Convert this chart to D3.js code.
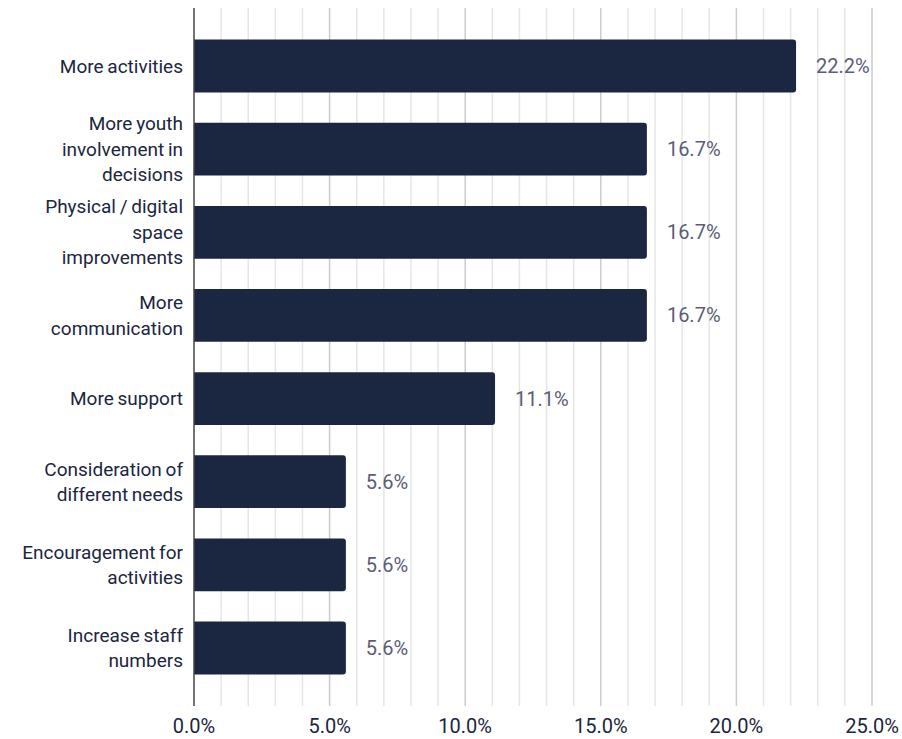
<!DOCTYPE html>
<html>
<head>
<meta charset="utf-8">
<script src="https://cdn.jsdelivr.net/npm/d3@7"></script>
<style>
  body { margin: 0; background: #fff; }
  text { font-family: Roboto, "Noto Sans", sans-serif; }
</style>
</head>
<body>
<div id="chart-area"></div>
<script>
// data
let categories = [
  "More activities",
  "More youth\ninvolvement in\ndecisions",
  "Physical / digital\nspace\nimprovements",
  "More\ncommunication",
  "More support",
  "Consideration of\ndifferent needs",
  "Encouragement for\nactivities",
  "Increase staff\nnumbers"
];
let shares = [22.2, 16.7, 16.7, 16.7, 11.1, 5.6, 5.6, 5.6];
let tick_values = [0, 5, 10, 15, 20, 25];

let width = 902, height = 739;
let margin = { left: 194, right: 30, top: 8, bottom: 33 };

let svg = d3.select("#chart-area")
  .append("svg")
    .attr("width", width)
    .attr("height", height)

let x = d3.scaleLinear()
  .domain([0, 25])
  .range([margin.left, width - margin.right])

let y = d3.scaleBand()
  .domain(categories)
  .range([margin.top, height - margin.bottom])
  .paddingInner(0.365)
  .paddingOuter(0.38)

// ----------------- grid -----------------
svg.append("g")
  .selectAll("line")
  .data(d3.range(1, 26))
  .enter()
  .append("line")
    .attr("x1", d => x(d))
    .attr("x2", d => x(d))
    .attr("y1", margin.top)
    .attr("y2", height - margin.bottom)
    .attr("stroke", d => d % 5 === 0 ? "#cccccc" : "#e6e6e6")
    .attr("stroke-width", 1.5)

// ----------------- bars -----------------
let r = 3;
svg.append("g")
  .selectAll("path")
  .data(shares)
  .enter()
  .append("path")
    .attr("fill", "#1b2640")
    .attr("d", (d, i) => {
      let x0 = x(0), x1 = x(d);
      let y0 = y(categories[i]), y1 = y0 + y.bandwidth();
      return `M${x0},${y0}H${x1 - r}Q${x1},${y0} ${x1},${y0 + r}V${y1 - r}Q${x1},${y1} ${x1 - r},${y1}H${x0}Z`;
    })

// value labels
svg.append("g")
  .selectAll("text")
  .data(shares)
  .enter()
  .append("text")
    .attr("x", d => x(d) + 20)
    .attr("y", (d, i) => y(categories[i]) + y.bandwidth() / 2)
    .attr("dy", "0.35em")
    .attr("font-size", "20px")
    .attr("fill", "#5c5c78")
    .text(d => d.toFixed(1) + "%")

// ----------------- axes -----------------
svg.append("line")
  .attr("x1", x(0))
  .attr("x2", x(0))
  .attr("y1", margin.top)
  .attr("y2", height - margin.bottom)
  .attr("stroke", "#444")
  .attr("stroke-width", 1.5)

// category labels
let line_h = 25.5;
svg.append("g")
  .selectAll("text")
  .data(categories)
  .enter()
  .append("text")
    .attr("text-anchor", "end")
    .attr("font-size", "19px")
    .attr("fill", "#1b2640")
    .attr("word-spacing", "-1px")
    .each(function(d) {
      let lines = d.split("\n");
      let cy = y(d) + y.bandwidth() / 2;
      let top = cy - (lines.length - 1) * line_h / 2;
      lines.forEach((ln, j) => {
        d3.select(this).append("tspan")
          .attr("x", 183)
          .attr("y", top + j * line_h)
          .attr("dy", "0.35em")
          .text(ln)
      })
    })

// x tick labels
svg.append("g")
  .selectAll("text")
  .data(tick_values)
  .enter()
  .append("text")
    .attr("x", d => x(d))
    .attr("y", 733)
    .attr("text-anchor", "middle")
    .attr("font-size", "20px")
    .attr("fill", "#1b2640")
    .text(d => d.toFixed(1) + "%")
</script>
</body>
</html>
